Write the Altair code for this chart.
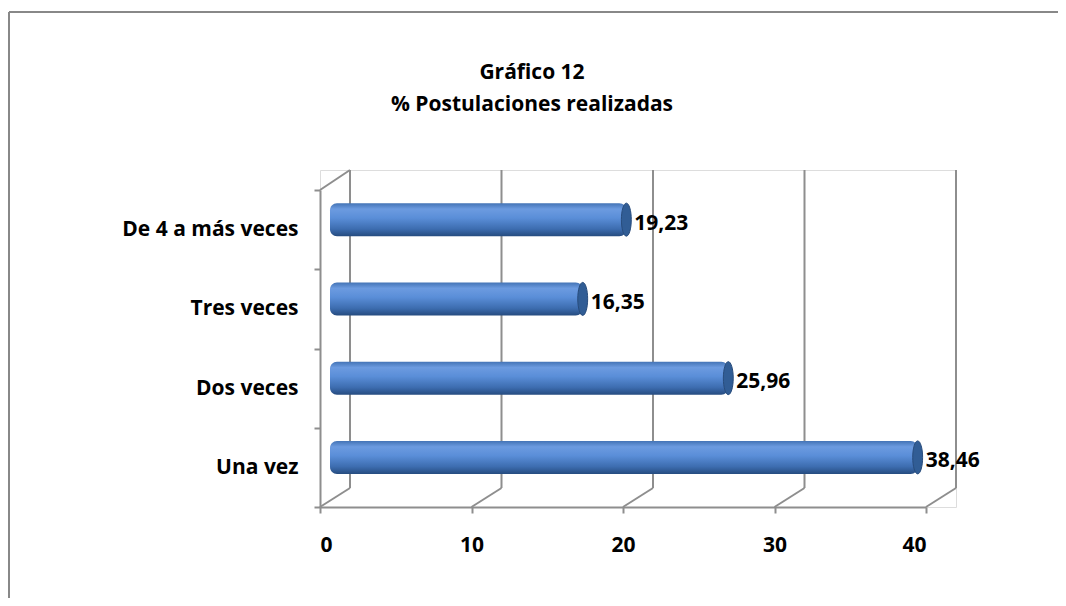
import altair as alt
import pandas as pd

categories = ["De 4 a más veces", "Tres veces", "Dos veces", "Una vez"]
values = [19.23, 16.35, 25.96, 38.46]
value_labels = ["19,23", "16,35", "25,96", "38,46"]
x_ticks = [0, 10, 20, 30, 40]
title_lines = ["Gráfico 12", "% Postulaciones realizadas"]

df = pd.DataFrame({"cat": categories, "v": values, "lab": value_labels})
grid = pd.DataFrame({"t": x_ticks})
tdf = pd.DataFrame({"line": title_lines, "i": [0, 1]})

FONT = "Open Sans"
FS = 21
GRAY = "#8e8e8e"
DEPTH_X = 30
DEPTH_Y = 19
W_FRONT = 606
PLOT_H = 337

xscale = alt.Scale(domain=[0, 40], range=[0, W_FRONT], nice=False)
yscale = alt.Scale(domain=categories, range=[20, PLOT_H], paddingInner=0, paddingOuter=0)

x_enc = alt.X("v:Q", scale=xscale, title=None,
              axis=alt.Axis(values=x_ticks, grid=False, domainColor=GRAY, domainWidth=2,
                            tickColor=GRAY, tickWidth=2, tickSize=6, labelFontSize=FS,
                            labelFontWeight="bold", labelFont=FONT, labelColor="#000",
                            labelPadding=21))
y_enc = alt.Y("cat:N", scale=yscale, sort=categories, title=None,
              axis=alt.Axis(tickBand="extent", domainColor=GRAY, domainWidth=2, tickColor=GRAY,
                            tickWidth=2, tickSize=6, labelFontSize=FS, labelFontWeight="bold",
                            labelFont=FONT, labelColor="#000", labelPadding=16))

base_grid = alt.Chart(grid)

back_lines = base_grid.mark_rule(color=GRAY, strokeWidth=2, xOffset=DEPTH_X).encode(
    x=alt.X("t:Q", scale=xscale), y=alt.value(0), y2=alt.value(PLOT_H - DEPTH_Y))

floor_diag = base_grid.mark_rule(color=GRAY, strokeWidth=2, x2Offset=DEPTH_X).encode(
    x=alt.X("t:Q", scale=xscale), x2="t:Q", y=alt.value(PLOT_H), y2=alt.value(PLOT_H - DEPTH_Y))

top_diag = base_grid.transform_filter("datum.t == 0").mark_rule(
    color=GRAY, strokeWidth=2, x2Offset=DEPTH_X).encode(
    x=alt.X("t:Q", scale=xscale), x2="t:Q", y=alt.value(20), y2=alt.value(0))

grad = alt.Gradient(
    gradient="linear", x1=0, x2=0, y1=0, y2=1,
    stops=[alt.GradientStop(color="#4373b5", offset=0),
           alt.GradientStop(color="#6c9be0", offset=0.18),
           alt.GradientStop(color="#5a8ed8", offset=0.45),
           alt.GradientStop(color="#3d6db0", offset=0.78),
           alt.GradientStop(color="#264c80", offset=1)])

base = alt.Chart(df)

bars = base.mark_bar(height=33, color=grad, cornerRadius=7, xOffset=15, x2Offset=10,
                     yOffset=-10).encode(x=x_enc, x2=alt.datum(0), y=y_enc)

cap_path = "M0,-1 A0.3,1 0 1,1 0,1 A0.3,1 0 1,1 0,-1 Z"
caps = base.mark_point(shape=cap_path, size=1089, filled=True, fill="#315d95",
                       stroke="#284c7c", strokeWidth=1, opacity=1,
                       xOffset=15, yOffset=-10).encode(x=alt.X("v:Q", scale=xscale),
                                                      y=alt.Y("cat:N", scale=yscale, sort=categories))

labels = base.mark_text(align="left", baseline="middle", dx=23, dy=-6, fontSize=FS,
                        fontWeight="bold", font=FONT, color="#000").encode(
    x=alt.X("v:Q", scale=xscale), y=alt.Y("cat:N", scale=yscale, sort=categories), text="lab:N")

title1 = alt.Chart(tdf).transform_filter("datum.i == 0").mark_text(
    align="center", baseline="middle", fontSize=FS, fontWeight="bold", font=FONT,
    color="#000").encode(x=alt.value(212), y=alt.value(-97), text="line:N")
title2 = alt.Chart(tdf).transform_filter("datum.i == 1").mark_text(
    align="center", baseline="middle", fontSize=FS, fontWeight="bold", font=FONT,
    color="#000").encode(x=alt.value(212), y=alt.value(-65), text="line:N")

border_left = base_grid.transform_filter("datum.t == 0").mark_rule(color="#888", strokeWidth=2).encode(
    x=alt.value(-311), y=alt.value(-158), y2=alt.value(450))
border_top = base_grid.transform_filter("datum.t == 0").mark_rule(color="#888", strokeWidth=2).encode(
    x=alt.value(-311), x2=alt.value(760), y=alt.value(-158))

chart = alt.layer(
    border_left, border_top, back_lines, floor_diag, top_diag, bars, caps, labels, title1, title2
).properties(
    width=W_FRONT + DEPTH_X,
    height=PLOT_H,
    autosize=alt.AutoSizeParams(type="none"),
    padding={"left": 312, "top": 162, "right": 102, "bottom": 91},
).configure_view(stroke=None).configure(background="white")

chart.save("out.html", embed_options={"renderer": "svg", "actions": False})
